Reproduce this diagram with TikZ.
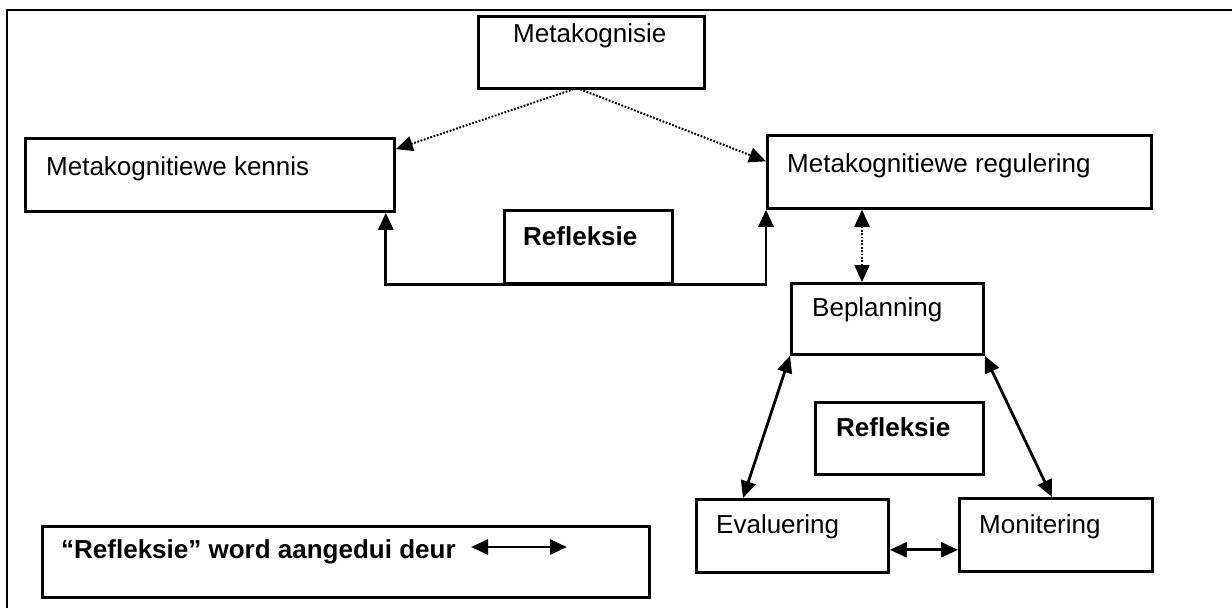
\documentclass[tikz,border=0pt]{standalone}
\usepackage{fontspec}
\setmainfont{Liberation Sans}
\usetikzlibrary{arrows.meta,calc}
\begin{document}
\begin{tikzpicture}[x=1pt,y=-1pt,
  box/.style={draw, line width=2.8pt, anchor=north west, inner sep=0pt},
  lbl/.style={anchor=base west, inner sep=0pt, font=\fontsize{26}{30}\selectfont},
  blbl/.style={anchor=base west, inner sep=0pt, font=\fontsize{26}{30}\selectfont\bfseries},
  tip/.style={-{Triangle[length=17pt,width=15pt]}},
  dtip/.style={{Triangle[length=17pt,width=15pt]}-{Triangle[length=17pt,width=15pt]}},
  dots/.style={line width=2pt, dash pattern=on 1.8pt off 1.6pt},
  conn/.style={line width=2.8pt}]
\useasboundingbox (0,0) rectangle (1232,608);
% frame
\coordinate (fr) at (1232,10);
\coordinate (fc) at (7,10);
\coordinate (fb) at (7,608);
\draw[line width=2.4pt] (fb) -- (fc) -- (fr);
% boxes
\node[box, minimum width=226pt, minimum height=72pt] (meta) at (477,15) {};
\node[lbl] (metat) at (513,42) {Metakognisie};
\node[box, minimum width=369pt, minimum height=73pt] (kennis) at (24,137) {};
\node[lbl] (kennist) at (46,175) {Metakognitiewe kennis};
\node[box, minimum width=384pt, minimum height=73pt] (reg) at (766,134) {};
\node[lbl] (regt) at (787,172) {Metakognitiewe regulering};
\node[box, minimum width=168pt, minimum height=73pt] (refl1) at (503,209) {};
\node[blbl] (refl1t) at (523,245) {Refleksie};
\node[box, minimum width=192pt, minimum height=71pt] (bepl) at (790,282) {};
\node[lbl] (beplt) at (812,316) {Beplanning};
\node[box, minimum width=168pt, minimum height=72pt] (refl2) at (814,401) {};
\node[blbl] (refl2t) at (836,436) {Refleksie};
\node[box, minimum width=192pt, minimum height=73pt] (eval) at (695,498) {};
\node[lbl] (evalt) at (716,533) {Evaluering};
\node[box, minimum width=193pt, minimum height=73pt] (moni) at (958,497) {};
\node[lbl] (monit) at (979,533) {Monitering};
\node[box, minimum width=607pt, minimum height=71pt] (leg) at (41,525) {};
\node[blbl] (legt) at (61,558) {“Refleksie” word aangedui deur};
% connectors
\coordinate (apex) at (577,88);
\draw[dots, tip] (apex) -- ($(kennis.north east)!0.16!(kennis.south east)$);
\draw[dots, tip] (apex) -- ($(reg.north west)!0.36!(reg.south west)$);
\draw[conn, tip] (refl1.south) -| ($(kennis.south east)+(-10,0)$);
\draw[conn, tip] (refl1.south) -| (reg.south west);
\draw[dots, dtip] ($(reg.south west)+(96,0)$) -- ($(bepl.north west)+(72,0)$);
\draw[conn, dtip] (bepl.south west) -- ($(eval.north west)+(48,0)$);
\draw[conn, dtip] (bepl.south east) -- ($(moni.north west)+(94,0)$);
\draw[conn, dtip] ($(eval.south east)+(0,-24)$) -- ($(moni.south west)+(0,-23)$);
\coordinate (la) at (471,547);
\coordinate (lb) at (567,547);
\draw[conn, dtip] (la) -- (lb);
\end{tikzpicture}
\end{document}
